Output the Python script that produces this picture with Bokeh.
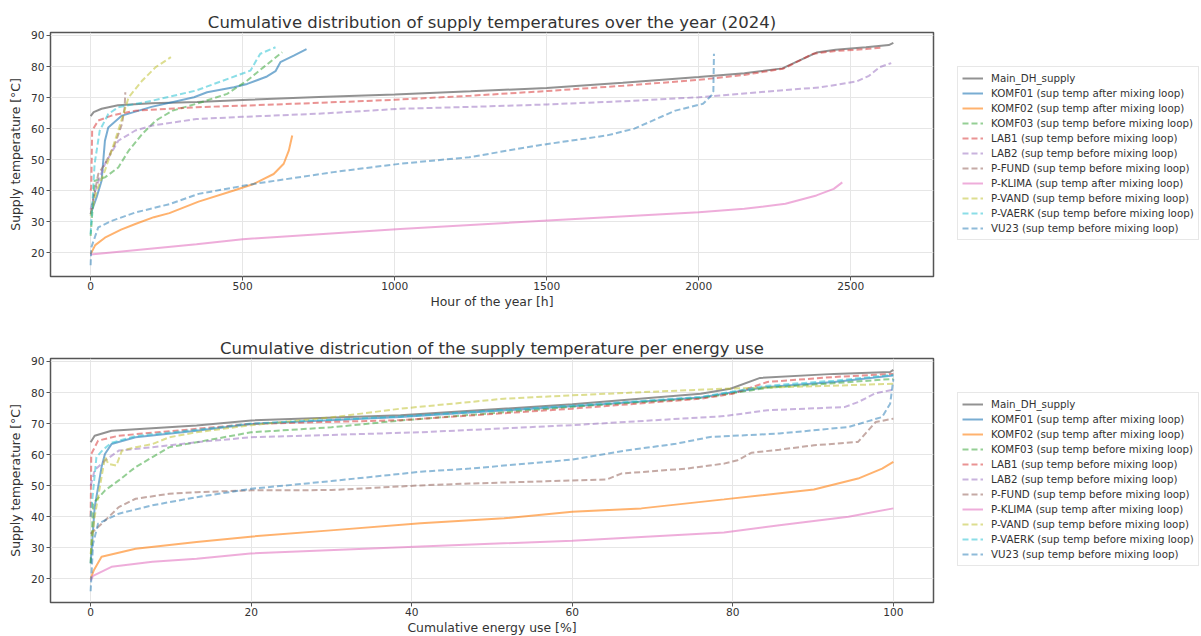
from bokeh.plotting import figure
from bokeh.models import Legend, LegendItem, FixedTicker, Range1d
from bokeh.layouts import column
from bokeh.embed import file_html
from bokeh.resources import INLINE

# ---------------- sorted supply temperatures vs. hour of the year ----------------
hours_main = [0, 10, 36, 90, 200, 350, 500, 750, 1000, 1250, 1500, 1750, 2000, 2150, 2275, 2330, 2387, 2450, 2550, 2625, 2640]
temp_main = [64.0, 65.3, 66.4, 67.5, 68.2, 68.6, 69.2, 70.2, 71.0, 72.0, 73.1, 74.8, 76.6, 77.8, 79.4, 81.9, 84.5, 85.4, 86.2, 86.9, 87.6]

hours_komf01 = [0, 20, 36, 47, 58, 103, 200, 340, 383, 471, 515, 580, 608, 624, 668, 710]
temp_komf01 = [32.5, 38.0, 43.2, 56.1, 60.4, 64.2, 67.0, 70.1, 71.7, 73.3, 74.4, 76.8, 78.5, 81.4, 83.5, 85.6]

hours_komf02 = [0, 15, 47, 100, 147, 208, 259, 355, 471, 536, 602, 635, 652, 663]
temp_komf02 = [19.6, 22.5, 24.9, 27.5, 29.3, 31.5, 32.8, 36.5, 40.1, 42.2, 45.4, 48.7, 53.0, 57.8]

hours_komf03 = [0, 13, 47, 91, 125, 170, 214, 270, 348, 449, 515, 569, 630]
temp_komf03 = [25.5, 43.2, 44.3, 47.5, 52.9, 58.3, 62.6, 65.8, 68.0, 71.2, 75.5, 79.8, 84.6]

hours_lab1 = [0, 2, 5, 25, 69, 147, 348, 500, 750, 1000, 1250, 1500, 1750, 2000, 2150, 2278, 2376, 2450, 2550, 2606]
temp_lab1 = [40.0, 41.0, 59.4, 62.6, 64.2, 65.8, 66.9, 67.4, 68.3, 69.3, 70.6, 72.1, 73.8, 75.7, 77.3, 79.3, 84.1, 85.0, 85.6, 86.1]

hours_lab2 = [0, 15, 30, 47, 91, 147, 203, 348, 500, 750, 1018, 1250, 1503, 1750, 2000, 2267, 2400, 2519, 2560, 2595, 2633]
temp_lab2 = [34.0, 40.0, 44.3, 48.6, 56.1, 59.4, 61.0, 63.1, 63.8, 64.8, 66.4, 67.0, 67.8, 68.8, 70.1, 72.3, 73.3, 75.2, 77.0, 79.8, 81.1]

hours_pfund = [0, 25, 47, 80, 103, 112, 114]
temp_pfund = [32.5, 45.4, 48.6, 55.1, 61.5, 66.9, 71.7]

hours_pklima = [0, 348, 500, 1018, 1503, 2000, 2150, 2285, 2387, 2444, 2472]
temp_pklima = [19.5, 22.8, 24.4, 27.7, 30.4, 33.1, 34.2, 35.8, 38.5, 40.6, 42.7]

hours_pvand = [0, 20, 47, 91, 125, 170, 214, 264]
temp_pvand = [32.0, 40.0, 46.5, 59.4, 70.1, 75.5, 79.8, 83.0]

hours_pvaerk = [0, 13, 30, 58, 91, 203, 348, 406, 526, 545, 558, 608]
temp_pvaerk = [26.0, 48.6, 59.4, 64.7, 66.9, 69.0, 72.3, 74.4, 78.7, 82.0, 84.1, 86.2]

hours_vu23 = [0, 2, 25, 69, 147, 259, 355, 536, 799, 1018, 1245, 1471, 1697, 1788, 1923, 2014, 2042, 2048, 2050]
temp_vu23 = [16.0, 21.7, 28.2, 30.3, 33.0, 35.7, 39.0, 42.2, 46.0, 48.7, 50.8, 54.6, 57.8, 60.0, 65.8, 68.0, 70.7, 72.0, 84.1]

# ---------------- sorted supply temperatures vs. cumulative energy use ----------------
energy_main = [0, 0.5, 2.6, 13.2, 20, 38.6, 60, 76, 79.7, 83.4, 92.6, 99.6, 100]
etemp_main = [64.0, 66.1, 67.7, 69.4, 71.0, 72.7, 76.2, 79.6, 81.2, 84.7, 86.0, 86.6, 87.3]

energy_komf01 = [0, 0.5, 1.36, 1.78, 2.6, 5.6, 13.2, 20, 38.6, 60, 76, 80, 84.3, 92.6, 100]
etemp_komf01 = [25.0, 43.0, 56.0, 60.2, 63.4, 65.6, 67.7, 69.9, 72.1, 75.6, 78.4, 80.1, 81.8, 83.4, 85.5]

energy_komf02 = [0, 0.4, 1.36, 5.6, 13.2, 19.9, 30.3, 41.1, 51.5, 60, 68.6, 78.9, 90.1, 95.6, 98.6, 100]
etemp_komf02 = [20.0, 22.8, 27.1, 29.7, 31.9, 33.6, 35.7, 37.9, 39.5, 41.6, 42.7, 45.6, 48.8, 52.3, 55.5, 57.7]

energy_komf03 = [0, 0.3, 1.8, 3.5, 5.6, 7.7, 9.8, 13.2, 20, 30, 38.6, 60, 76, 80, 84.3, 92.6, 100]
etemp_komf03 = [25.0, 44.2, 48.5, 51.7, 56.0, 59.2, 62.4, 64.0, 67.2, 68.8, 71.0, 75.4, 78.2, 79.8, 81.5, 83.0, 84.4]

energy_lab1 = [0, 0.08, 0.93, 3.5, 13.2, 20, 38.6, 60, 76, 80, 84.3, 92.6, 100]
etemp_lab1 = [40.0, 60.2, 64.5, 66.1, 68.3, 69.9, 71.1, 74.8, 78.0, 79.6, 83.4, 85.0, 86.0]

energy_lab2 = [0, 0.5, 1.8, 3.5, 7.7, 13.2, 20, 41.1, 60, 78.9, 84.3, 93.9, 95.6, 97.8, 100]
etemp_lab2 = [50.0, 55.0, 58.1, 61.3, 62.4, 64.0, 65.6, 67.2, 69.5, 72.4, 74.3, 75.3, 76.9, 79.8, 80.9]

energy_pfund = [0, 1.8, 3.5, 5.6, 9.8, 13.2, 20, 30, 41.1, 47.2, 64.3, 66.1, 74.2, 78.9, 80.6, 82.3, 85.8, 90.1, 95.6, 97.8, 100]
etemp_pfund = [34.5, 38.8, 43.1, 45.8, 47.4, 47.9, 48.5, 48.6, 50.1, 50.7, 52.0, 53.9, 55.5, 57.1, 58.2, 60.6, 61.6, 63.0, 64.1, 70.5, 71.6]

energy_pklima = [0, 0.3, 2.6, 7.7, 13.2, 19.9, 41.1, 60, 78.9, 85.8, 94.4, 100]
etemp_pklima = [19.5, 21.0, 23.9, 25.5, 26.5, 28.2, 30.4, 32.3, 34.9, 37.3, 40.0, 42.7]

energy_pvand = [0, 0.5, 1.36, 1.8, 2.2, 3.2, 3.9, 5.6, 7.7, 9.8, 13.2, 20, 30, 38.6, 51.5, 60, 68.6, 78.9, 86, 100]
etemp_pvand = [28.0, 40.0, 52.8, 59.3, 57.0, 56.5, 61.3, 62.4, 63.4, 65.6, 67.2, 69.5, 72.0, 74.8, 78.0, 79.1, 80.1, 81.2, 81.7, 82.8]

energy_pvaerk = [0, 0.72, 1.5, 2.6, 5.6, 13.2, 20, 38.6, 60, 76, 80, 84.3, 92.6, 100]
etemp_pvaerk = [40.0, 59.2, 61.5, 63.8, 66.0, 68.0, 70.0, 72.3, 75.8, 78.6, 80.3, 82.2, 83.8, 85.7]

energy_vu23 = [0, 0.3, 0.93, 3.5, 7.7, 13.2, 20, 30, 41.1, 47.2, 60, 66.9, 72.9, 77.2, 85.8, 94.4, 98.6, 99.6, 100]
etemp_vu23 = [16.0, 31.3, 37.8, 41.0, 43.7, 46.3, 49.0, 51.5, 54.5, 55.5, 58.4, 61.4, 63.5, 65.7, 66.8, 68.9, 72.1, 76.4, 84.3]

labels = [
    "Main_DH_supply",
    "KOMF01 (sup temp after mixing loop)",
    "KOMF02 (sup temp after mixing loop)",
    "KOMF03 (sup temp before mixing loop)",
    "LAB1 (sup temp before mixing loop)",
    "LAB2 (sup temp before mixing loop)",
    "P-FUND (sup temp before mixing loop)",
    "P-KLIMA (sup temp after mixing loop)",
    "P-VAND (sup temp before mixing loop)",
    "P-VAERK (sup temp before mixing loop)",
    "VU23 (sup temp before mixing loop)",
]
colors = ["#7f7f7f", "#1f77b4", "#ff7f0e", "#2ca02c", "#d62728", "#9467bd",
          "#8c564b", "#e377c2", "#bcbd22", "#17becf", "#1f77b4"]
dashed = [False, False, False, True, True, True, True, False, True, True, True]

hour_series = [
    (hours_main, temp_main), (hours_komf01, temp_komf01), (hours_komf02, temp_komf02),
    (hours_komf03, temp_komf03), (hours_lab1, temp_lab1), (hours_lab2, temp_lab2),
    (hours_pfund, temp_pfund), (hours_pklima, temp_pklima), (hours_pvand, temp_pvand),
    (hours_pvaerk, temp_pvaerk), (hours_vu23, temp_vu23),
]
energy_series = [
    (energy_main, etemp_main), (energy_komf01, etemp_komf01), (energy_komf02, etemp_komf02),
    (energy_komf03, etemp_komf03), (energy_lab1, etemp_lab1), (energy_lab2, etemp_lab2),
    (energy_pfund, etemp_pfund), (energy_pklima, etemp_pklima), (energy_pvand, etemp_pvand),
    (energy_pvaerk, etemp_pvaerk), (energy_vu23, etemp_vu23),
]

temp_ticks = [20, 30, 40, 50, 60, 70, 80, 90]
hour_ticks = [0, 500, 1000, 1500, 2000, 2500]
energy_ticks = [0, 20, 40, 60, 80, 100]

FONT = "DejaVu Sans"
TEXT = "#333333"


def make_panel(title, xlabel, xr, xticks, series, border_top, border_bottom):
    p = figure(
        frame_width=883, frame_height=244,
        x_range=Range1d(*xr), y_range=Range1d(12.4, 90.95),
        output_backend="svg", toolbar_location=None,
        min_border_left=50, min_border_right=268,
        min_border_top=border_top, min_border_bottom=border_bottom,
    )
    p.title.text = title
    p.title.align = "center"
    p.title.text_font = FONT
    p.title.text_font_size = "16.5px"
    p.title.text_font_style = "normal"
    p.title.text_color = TEXT
    p.title.standoff = 2

    p.outline_line_color = "#555555"
    p.outline_line_width = 1.5
    p.background_fill_color = "white"
    p.border_fill_color = "white"

    p.xaxis.ticker = FixedTicker(ticks=xticks)
    p.yaxis.ticker = FixedTicker(ticks=temp_ticks)
    p.xaxis.axis_label = xlabel
    p.yaxis.axis_label = "Supply temperature [°C]"
    for ax in (p.xaxis[0], p.yaxis[0]):
        ax.axis_line_color = None
        ax.major_tick_in = 0
        ax.major_tick_out = 4
        ax.major_tick_line_color = "#555555"
        ax.minor_tick_line_color = None
        ax.major_label_text_font = FONT
        ax.major_label_text_font_size = "10.6px"
        ax.major_label_text_color = TEXT
        ax.axis_label_text_font = FONT
        ax.axis_label_text_font_size = "12.4px"
        ax.axis_label_text_font_style = "normal"
        ax.axis_label_text_color = TEXT
    p.xaxis.major_label_standoff = 1
    p.xaxis.axis_label_standoff = 1
    p.yaxis.major_label_standoff = 2
    p.yaxis.axis_label_standoff = 5

    p.xgrid.grid_line_color = "#e6e6e6"
    p.ygrid.grid_line_color = "#e6e6e6"

    items = []
    for (xs, ys), lab, col, dsh in zip(series, labels, colors, dashed):
        if lab == "Main_DH_supply":
            alpha = 0.85
        elif dsh:
            alpha = 0.5
        else:
            alpha = 0.6
        r = p.line(xs, ys, line_color=col, line_width=2, line_alpha=alpha,
                   line_dash="6 3" if dsh else "solid")
        items.append(LegendItem(label=lab, renderers=[r]))

    # legend sits in the right-hand side panel, next to the frame
    legend = Legend(
        items=items, location=(24, 36),
        label_text_font=FONT, label_text_font_size="10.3px", label_text_color=TEXT,
        glyph_width=21, glyph_height=14, label_height=14, label_standoff=8,
        spacing=1, padding=4, margin=12,
        border_line_color="#d0d0d0", border_line_width=1,
        background_fill_color="white", background_fill_alpha=1.0,
    )
    p.add_layout(legend, "right")
    return p


top = make_panel("Cumulative distribution of supply temperatures over the year (2024)",
                 "Hour of the year [h]", (-132, 2772), hour_ticks, hour_series, 32, 36)
bottom = make_panel("Cumulative districution of the supply temperature per energy use",
                    "Cumulative energy use [%]", (-5, 105), energy_ticks, energy_series, 46, 34)

page = column(top, bottom, spacing=0)
open("out.html", "w").write(file_html(page, INLINE))
